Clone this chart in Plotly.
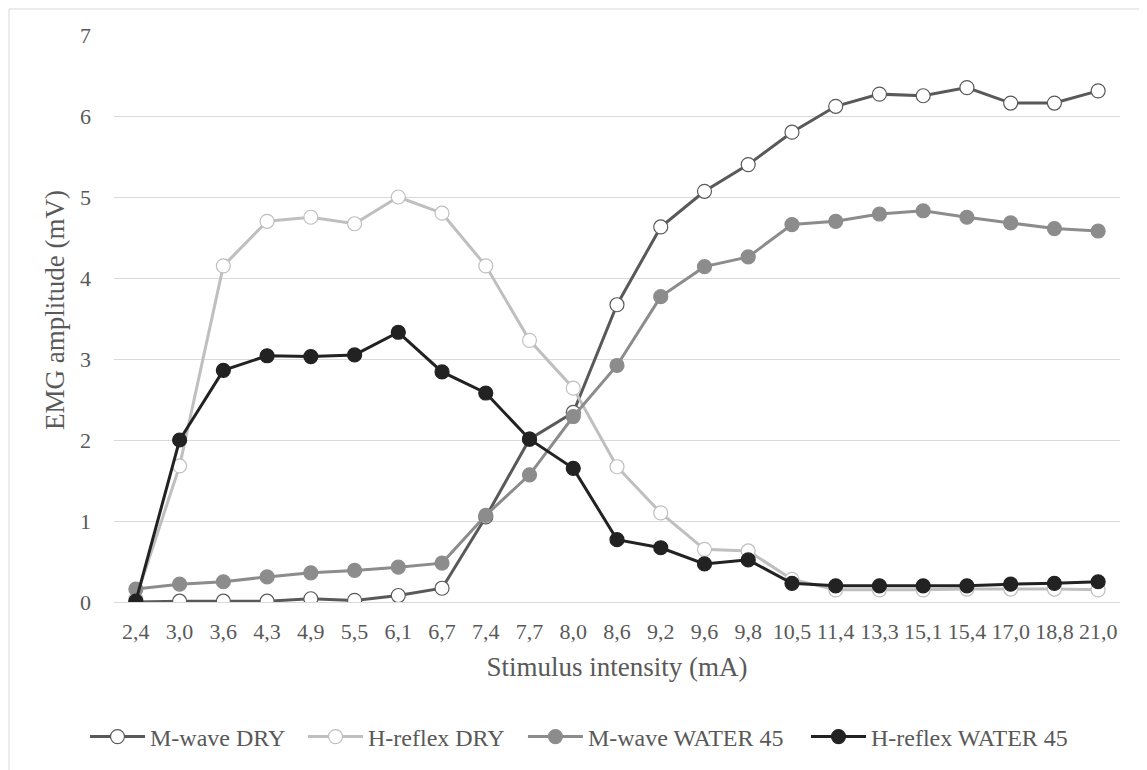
import plotly.graph_objects as go

categories = ["2,4", "3,0", "3,6", "4,3", "4,9", "5,5", "6,1", "6,7", "7,4", "7,7", "8,0", "8,6",
              "9,2", "9,6", "9,8", "10,5", "11,4", "13,3", "15,1", "15,4", "17,0", "18,8", "21,0"]

m_wave_dry = [0.00, 0.01, 0.01, 0.01, 0.04, 0.02, 0.08, 0.17, 1.05, 2.01, 2.34, 3.67,
              4.63, 5.07, 5.40, 5.80, 6.12, 6.27, 6.25, 6.35, 6.16, 6.16, 6.31]
h_reflex_dry = [0.04, 1.68, 4.15, 4.70, 4.75, 4.67, 5.00, 4.80, 4.15, 3.23, 2.64, 1.67,
                1.10, 0.65, 0.63, 0.28, 0.15, 0.15, 0.15, 0.16, 0.16, 0.16, 0.15]
m_wave_water = [0.16, 0.22, 0.25, 0.31, 0.36, 0.39, 0.43, 0.48, 1.07, 1.57, 2.29, 2.92,
                3.77, 4.14, 4.26, 4.66, 4.70, 4.79, 4.83, 4.75, 4.68, 4.61, 4.58]
h_reflex_water = [0.01, 2.00, 2.86, 3.04, 3.03, 3.05, 3.33, 2.84, 2.58, 2.01, 1.65, 0.77,
                  0.67, 0.47, 0.52, 0.23, 0.20, 0.20, 0.20, 0.20, 0.22, 0.23, 0.25]

series = [
    ("M-wave DRY", m_wave_dry, "#595959", "white"),
    ("H-reflex DRY", h_reflex_dry, "#bfbfbf", "white"),
    ("M-wave WATER 45", m_wave_water, "#8c8c8c", "#8c8c8c"),
    ("H-reflex WATER 45", h_reflex_water, "#222222", "#222222"),
]
legend_ids = ["legend", "legend2", "legend3", "legend4"]
legend_x = [0.0676, 0.259, 0.4521, 0.7006]

FONT = "Liberation Serif, Times New Roman, serif"
TXT = "#595959"

fig = go.Figure()
for (name, vals, col, fill), lid in zip(series, legend_ids):
    fig.add_trace(go.Scatter(
        x=categories, y=vals, name=name, mode="lines+markers", legend=lid,
        line=dict(color=col, width=3),
        marker=dict(symbol="circle", size=14, color=fill,
                    line=dict(color=col, width=1.2)),
    ))

legend_style = dict(orientation="h", xref="container", yref="container",
                    xanchor="left", y=0.0433, yanchor="middle",
                    font=dict(family=FONT, size=24, color=TXT), itemwidth=55,
                    bgcolor="rgba(0,0,0,0)")

# The page body has an 8px default margin, so the figure is 8px smaller.
fig.update_layout(
    width=1139, height=762,
    margin=dict(l=106, r=27, t=27, b=168, autoexpand=False),
    paper_bgcolor="white", plot_bgcolor="white",
    font=dict(family=FONT, size=22, color=TXT),
    showlegend=True,
    xaxis=dict(type="category", range=[-0.5, 22.5], showgrid=False, zeroline=False,
               showline=False, ticks="", ticklabelstandoff=14, tickangle=0, automargin=False,
               tickfont=dict(family=FONT, size=22, color=TXT),
               title=dict(text="Stimulus intensity (mA)", standoff=14,
                          font=dict(family=FONT, size=27, color=TXT))),
    yaxis=dict(range=[0, 7], dtick=1, showgrid=True, gridcolor="#d9d9d9", gridwidth=1,
               zeroline=True, zerolinecolor="#d9d9d9", zerolinewidth=1,
               showline=False, ticks="", ticklabelstandoff=22, automargin=False,
               tickfont=dict(family=FONT, size=22, color=TXT)),
    annotations=[dict(text="EMG amplitude (mV)", xref="paper", yref="paper",
                      x=-0.0586, y=0.515, xanchor="center", yanchor="middle",
                      textangle=-90, showarrow=False,
                      font=dict(family=FONT, size=27, color=TXT))],
    shapes=[dict(type="rect", xref="paper", yref="paper",
                 x0=-0.1044, x1=1.2, y0=-0.4, y1=1.0459,
                 line=dict(color="#d9d9d9", width=1), fillcolor="rgba(0,0,0,0)",
                 layer="below")],
)
for lid, lx in zip(legend_ids, legend_x):
    fig.update_layout({lid: dict(legend_style, x=lx)})

fig.write_html("out.html")
